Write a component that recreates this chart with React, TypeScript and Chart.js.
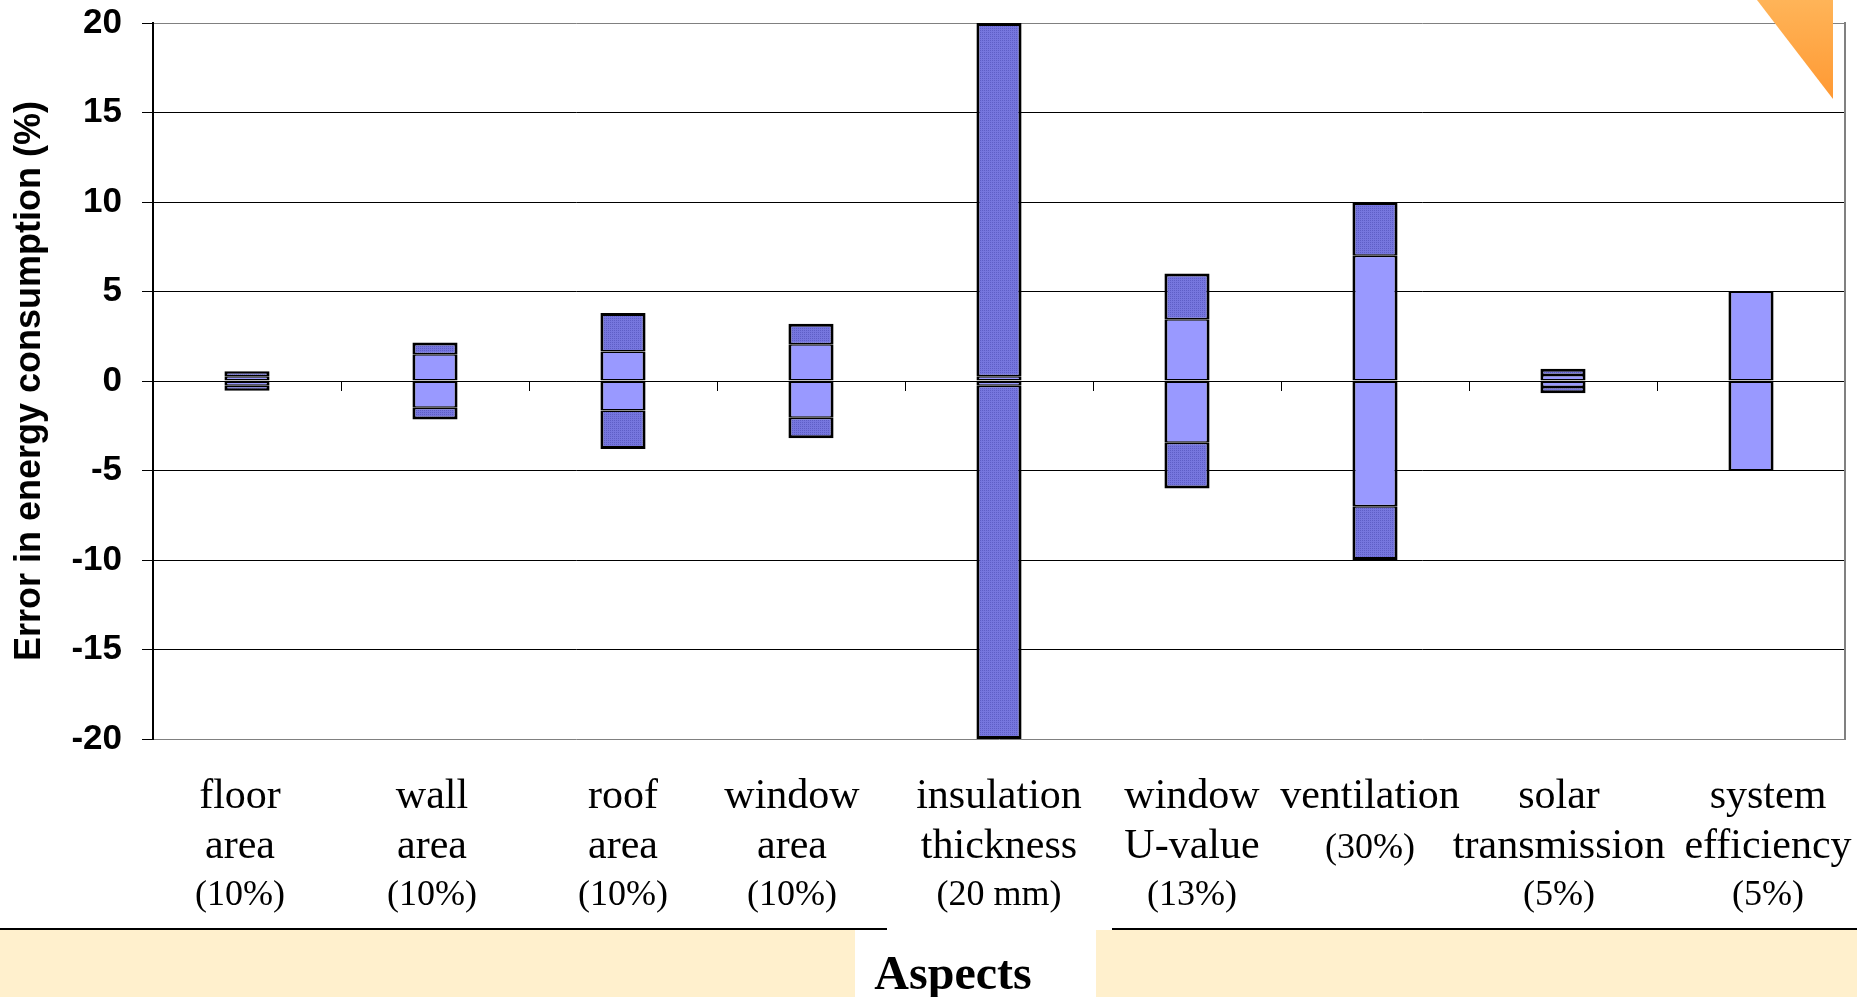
import React, { useEffect, useRef } from 'react';
import { Chart, registerables } from 'chart.js';

Chart.register(...registerables);

// ---- data ----
const categoryLabels: string[][] = [
  ['floor', 'area', '(10%)'],
  ['wall', 'area', '(10%)'],
  ['roof', 'area', '(10%)'],
  ['window', 'area', '(10%)'],
  ['insulation', 'thickness', '(20 mm)'],
  ['window', 'U-value', '(13%)'],
  ['ventilation', '(30%)'],
  ['solar', 'transmission', '(5%)'],
  ['system', 'efficiency', '(5%)'],
];
// half-height of the light (inner) band, in % error
const innerHalfRange = [0.27, 1.5, 1.65, 2.05, 0.27, 3.45, 7, 0.33, 5];
// half-height of the whole bar (outer, dark band end), in % error
const outerHalfRange = [0.54, 2.15, 3.8, 3.2, 20, 6, 10, 0.68, 5];
const yMin = -20;
const yMax = 20;
const yStep = 5;
const yAxisTitle = 'Error in energy consumption (%)';
const xAxisTitle = 'Aspects';

// ---- styling (text-box nudges of the category captions, px) ----
const captionNudge = [-7, -3, 0, -19, 0, 5, -5, -4, 17];

const W = 1857;
const H = 997;

function makeDarkPattern(): CanvasPattern | string {
  const pc = document.createElement('canvas');
  pc.width = 2;
  pc.height = 2;
  const p = pc.getContext('2d');
  if (!p) return '#7070D8';
  p.fillStyle = '#7676DE';
  p.fillRect(0, 0, 2, 2);
  p.fillStyle = '#5E5EC6';
  p.fillRect(0, 0, 1, 1);
  const ctx = document.createElement('canvas').getContext('2d');
  const pat = ctx ? ctx.createPattern(pc, 'repeat') : null;
  return pat || '#7070D8';
}

const categoryTextPlugin = {
  id: 'categoryText',
  afterDraw(chart: any) {
    const { ctx } = chart;
    const xs = chart.scales.x;
    const bottom = chart.chartArea.bottom;
    const rowOffsets = [69, 119, 166];
    ctx.save();
    ctx.fillStyle = '#000000';
    ctx.textAlign = 'center';
    ctx.textBaseline = 'alphabetic';
    categoryLabels.forEach((lines, i) => {
      const cx = xs.getPixelForValue(i) + (captionNudge[i] || 0);
      lines.forEach((t, j) => {
        ctx.font = t.startsWith('(')
          ? '36px "Liberation Serif", "Times New Roman", serif'
          : '42px "Liberation Serif", "Times New Roman", serif';
        ctx.fillText(t, cx, bottom + rowOffsets[j]);
      });
    });
    ctx.restore();
  },
};

export default function App() {
  const canvasRef = useRef<HTMLCanvasElement | null>(null);

  useEffect(() => {
    const canvas = canvasRef.current;
    if (!canvas) return;
    const dark = makeDarkPattern();
    const light = '#9999FF';
    const labels = categoryLabels.map((l) => l.join(' '));
    const common = {
      borderColor: '#000000',
      borderSkipped: false as const,
      barPercentage: 0.24,
      categoryPercentage: 1,
    };
    const outerW = 3;
    const innerW = 1.5;
    const chart = new Chart(canvas, {
      type: 'bar',
      data: {
        labels,
        datasets: [
          {
            label: 'outer upper',
            data: innerHalfRange.map((v, i) => [v, outerHalfRange[i]]) as any,
            backgroundColor: dark as any,
            borderWidth: { top: outerW, bottom: innerW, left: outerW, right: outerW } as any,
            ...common,
          },
          {
            label: 'inner upper',
            data: innerHalfRange.map((v) => [0, v]) as any,
            backgroundColor: light,
            borderWidth: { top: innerW, bottom: innerW, left: outerW, right: outerW } as any,
            ...common,
          },
          {
            label: 'inner lower',
            data: innerHalfRange.map((v) => [-v, 0]) as any,
            backgroundColor: light,
            borderWidth: { top: innerW, bottom: innerW, left: outerW, right: outerW } as any,
            ...common,
          },
          {
            label: 'outer lower',
            data: innerHalfRange.map((v, i) => [-outerHalfRange[i], -v]) as any,
            backgroundColor: dark as any,
            borderWidth: { top: innerW, bottom: outerW, left: outerW, right: outerW } as any,
            ...common,
          },
        ],
      },
      options: {
        responsive: false,
        animation: false,
        devicePixelRatio: 1,
        layout: { padding: { top: 23, right: 12, bottom: 258, left: 0 } },
        plugins: {
          legend: { display: false },
          tooltip: { enabled: false },
          title: { display: false },
        },
        scales: {
          x: {
            type: 'category',
            stacked: true,
            position: { y: 0 } as any,
            offset: true,
            ticks: { display: false },
            grid: {
              display: true,
              offset: true,
              drawOnChartArea: false,
              drawTicks: true,
              tickLength: 9,
              color: '#000000',
              lineWidth: 1,
            },
            border: { display: true, color: '#000000', width: 1 },
            afterFit: (s: any) => {
              s.paddingLeft = 0;
              s.paddingRight = 0;
              s.paddingTop = 0;
              s.paddingBottom = 0;
            },
          },
          y: {
            type: 'linear',
            position: 'left',
            stacked: false,
            min: yMin,
            max: yMax,
            ticks: {
              stepSize: yStep,
              color: '#000000',
              padding: 20,
              font: { family: '"Liberation Sans", Arial, sans-serif', size: 35, weight: 'bold' },
            },
            grid: {
              display: true,
              drawTicks: true,
              tickLength: 11,
              lineWidth: 1,
              color: (c: any) =>
                c.tick && (c.tick.value === yMax || c.tick.value === yMin) ? '#808080' : '#000000',
              tickColor: '#000000',
            },
            border: { display: true, color: '#000000', width: 2 },
            title: {
              display: true,
              text: yAxisTitle,
              color: '#000000',
              padding: { top: 8, bottom: 0 },
              font: { family: '"Liberation Sans", Arial, sans-serif', size: 36, weight: 'bold' },
            },
            afterFit: (s: any) => {
              s.width = 153;
              s.paddingTop = 0;
              s.paddingBottom = 0;
            },
          },
          y2: {
            type: 'linear',
            position: 'right',
            min: yMin,
            max: yMax,
            ticks: { display: false },
            grid: { display: false, drawTicks: false },
            border: { display: true, color: '#808080', width: 2 },
            afterFit: (s: any) => {
              s.width = 0;
              s.paddingTop = 0;
              s.paddingBottom = 0;
            },
          },
        },
      },
      plugins: [categoryTextPlugin],
    });
    return () => chart.destroy();
  }, []);

  return (
    <div
      style={{
        position: 'fixed',
        left: 0,
        top: 0,
        width: W,
        height: H,
        overflow: 'hidden',
        background: '#FFFFFF',
      }}
    >
      {/* beige banner at the bottom */}
      <div style={{ position: 'absolute', left: 0, top: 930, width: W, height: H - 930, background: '#FFF0CD' }} />
      <div style={{ position: 'absolute', left: 0, top: 928, width: 887, height: 2, background: '#000000' }} />
      <div style={{ position: 'absolute', left: 1112, top: 928, width: W - 1112, height: 2, background: '#000000' }} />
      <div style={{ position: 'absolute', left: 855, top: 930, width: 241, height: H - 930, background: '#FFFFFF' }} />
      <canvas
        ref={canvasRef}
        width={W}
        height={H}
        style={{ position: 'absolute', left: 0, top: 0, width: W, height: H }}
      />
      <div
        style={{
          position: 'absolute',
          left: 1757,
          top: 0,
          width: 76,
          height: 99,
          clipPath: 'polygon(0 0, 100% 0, 100% 100%)',
          background: 'linear-gradient(to bottom, #FFB458, #FF9933)',
        }}
      />
      <div
        style={{
          position: 'absolute',
          left: 953,
          top: 949,
          transform: 'translateX(-50%)',
          font: 'bold 48px/48px "Liberation Serif", "Times New Roman", serif',
          color: '#000000',
          whiteSpace: 'nowrap',
        }}
      >
        {xAxisTitle}
      </div>
    </div>
  );
}
